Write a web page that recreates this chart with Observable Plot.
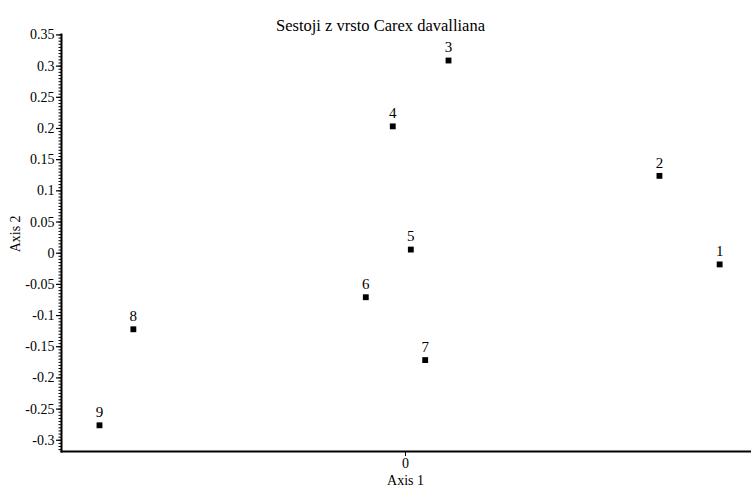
<!DOCTYPE html>
<html>
<head>
<meta charset="utf-8">
<script src="https://cdn.jsdelivr.net/npm/d3@7"></script>
<script src="https://cdn.jsdelivr.net/npm/@observablehq/plot@0.6"></script>
<style>
  html, body { margin: 0; padding: 0; background: #fff; }
  #chart svg { display: block; }
  #chart svg, #chart svg text { font-family: "Liberation Serif", "Times New Roman", serif !important; }
</style>
</head>
<body>
<div id="chart"></div>
<script>
const title = "Sestoji z vrsto Carex davalliana";
const xLabel = "Axis 1";
const yLabel = "Axis 2";
const siteLabels = ["1", "2", "3", "4", "5", "6", "7", "8", "9"];
const axis1 = [0.501, 0.405, 0.0686, -0.0203, 0.0085, -0.0633, 0.0314, -0.434, -0.488];
const axis2 = [-0.018, 0.124, 0.309, 0.2034, 0.0058, -0.0706, -0.1714, -0.122, -0.276];
const yTicks = [-0.3, -0.25, -0.2, -0.15, -0.1, -0.05, 0, 0.05, 0.1, 0.15, 0.2, 0.25, 0.3, 0.35];
const yTickLabels = ["-0.3", "-0.25", "-0.2", "-0.15", "-0.1", "-0.05", "0", "0.05", "0.1", "0.15", "0.2", "0.25", "0.3", "0.35"];
const xTicks = [0];
const xTickLabels = ["0"];

const points = siteLabels.map((s, i) => ({label: s, x: axis1[i], y: axis2[i]}));
const minorTicks = d3.range(-63, 71).map(i => i * 0.005);

const font = "Liberation Serif";

const chart = Plot.plot({
  width: 751,
  height: 491,
  marginTop: 34,
  marginBottom: 40,
  marginLeft: 61,
  marginRight: 0,
  style: {fontSize: "13px", color: "#000", background: "#fff"},
  x: {domain: [-0.5486, 0.5518], axis: null},
  y: {domain: [-0.318, 0.3507], axis: null},
  marks: [
    Plot.axisY(minorTicks, {tickSize: 2.5, text: null, label: null, strokeWidth: 1}),
    Plot.axisY(yTicks, {tickSize: 5, tickPadding: 2, strokeWidth: 1.2, tickFormat: (d, i) => yTickLabels[i], fontSize: 14, fontFamily: font, label: null}),
    Plot.axisX(xTicks, {anchor: "bottom", tickSize: 5, tickPadding: 2, tickFormat: (d, i) => xTickLabels[i], fontSize: 14, fontFamily: font, label: null}),
    Plot.frame({anchor: "left", strokeWidth: 2}),
    Plot.frame({anchor: "bottom", strokeWidth: 2}),
    Plot.dot(points, {x: "x", y: "y", symbol: "square", r: 3.3, fill: "#000", stroke: null}),
    Plot.text(points, {x: "x", y: "y", text: "label", dy: -13, fontSize: 15, fontFamily: font, fill: "#000"}),
    Plot.text([title], {frameAnchor: "top", dx: -26, dy: -15, fontSize: 16.5, fontFamily: font, fill: "#000"}),
    Plot.text([xLabel], {x: xTicks, frameAnchor: "bottom", dy: 33, fontSize: 14, fontFamily: font, fill: "#000"}),
    Plot.text([yLabel], {y: [0.031], frameAnchor: "left", textAnchor: "middle", dx: -46, rotate: -90, fontSize: 14, fontFamily: font, fill: "#000"})
  ]
});
document.getElementById("chart").appendChild(chart);
</script>
</body>
</html>
